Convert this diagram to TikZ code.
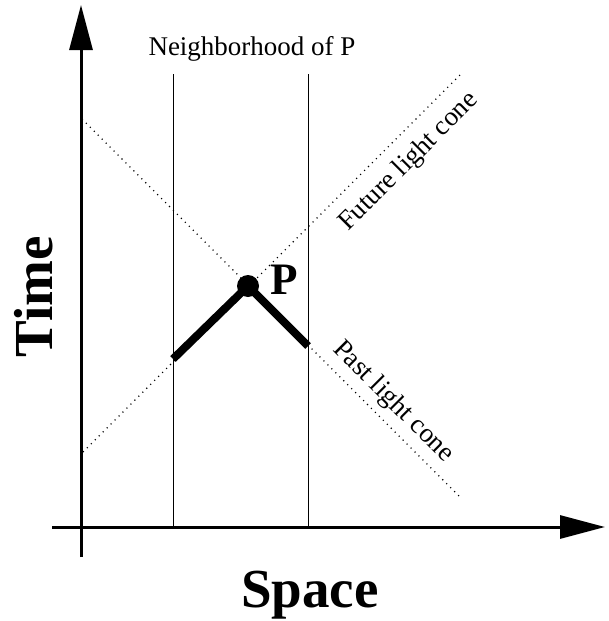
\documentclass[tikz,border=0pt]{standalone}
\usepackage{fontspec}
\setmainfont{Liberation Serif}
\usetikzlibrary{arrows.meta}
\tikzset{
  axis/.style={line width=3pt,-{Triangle[length=45pt,width=23pt]}},
  nbline/.style={line width=1pt},
  cone/.style={line width=1.1pt,dash pattern=on 1.1pt off 4.5pt},
  worldline/.style={line width=8pt,line join=round},
  smalltext/.style={font=\fontsize{27}{27}\selectfont},
  bigtext/.style={font=\fontsize{55}{55}\selectfont\bfseries},
}
\begin{document}
\begin{tikzpicture}[x=1pt,y=-1pt]
\useasboundingbox (0,0) rectangle (608,621);
% axes
\coordinate (yb) at (81,557);
\coordinate (yt) at (81,5);
\coordinate (xl) at (52,527);
\coordinate (xr) at (605,527);
\draw[axis] (yb) -- (yt);
\draw[axis] (xl) -- (xr);
% neighborhood lines
\coordinate (n1t) at (173,74);
\coordinate (n1b) at (173,527);
\coordinate (n2t) at (308,74);
\coordinate (n2b) at (308,527);
\draw[nbline] (n1t) -- (n1b);
\draw[nbline] (n2t) -- (n2b);
% light cones
\coordinate (c1a) at (82,119);
\coordinate (c1b) at (460,497);
\coordinate (c2a) at (83,452);
\coordinate (c2b) at (460,75);
\draw[cone] (c1a) -- (c1b);
\draw[cone] (c2a) -- (c2b);
% world line
\node[circle,fill=black,inner sep=0pt,minimum size=22pt] (p) at (248,286) {};
\coordinate (wl) at (173,359);
\coordinate (wr) at (308,346);
\draw[worldline] (wl) -- (p.center) -- (wr);
% labels
\node[font=\fontsize{45}{45}\selectfont\bfseries,anchor=base] (plab) at (284,294) {P};
\node[smalltext,anchor=base] (nlab) at (252,55) {Neighborhood of P};
\node[smalltext,rotate=45] (flab) at (409,162) {Future light cone};
\node[smalltext,rotate=-45] (plc) at (393,402) {Past light cone};
\node[bigtext,rotate=90,anchor=base] (tlab) at (52,297) {Time};
\node[bigtext,anchor=base] (slab) at (310,607) {Space};
\end{tikzpicture}
\end{document}
